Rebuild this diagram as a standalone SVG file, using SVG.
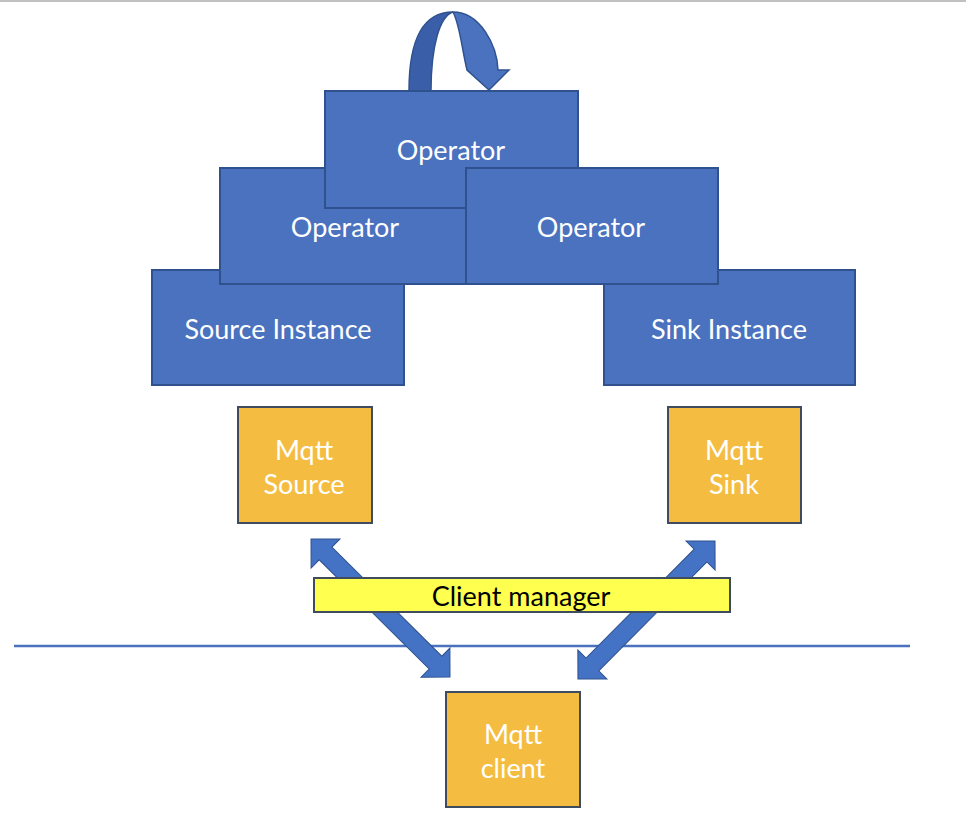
<svg xmlns="http://www.w3.org/2000/svg" width="966" height="814" viewBox="0 0 966 814">
<defs>
<style>
.blue{fill:#4A72BE;stroke:#2F528F;stroke-width:2}
.orange{fill:#F4BD42;stroke:#3F4B5E;stroke-width:2}
.bar{fill:#FFFF4F;stroke:#3F4B5E;stroke-width:2}
.t{font-family:Lato,"Open Sans","Liberation Sans",sans-serif;font-size:27px;fill:#FFFFFF;text-anchor:middle;dominant-baseline:central}
.tb{fill:#000000}
.arrow{fill:#4472C4;stroke:#2F528F;stroke-width:1}
</style>
</defs>
<rect x="0" y="0" width="966" height="2" fill="#C0C0C0"/>
<line x1="14" y1="646" x2="910" y2="646" stroke="#4A72BE" stroke-width="2.5"/>
<g id="connectors">
<polygon class="arrow" transform="translate(311,539) rotate(44.8)" points="0,0 20.5,-20.5 20.5,-9 175.4,-9 175.4,-20.5 195.9,0 175.4,20.5 175.4,9 20.5,9 20.5,20.5"/>
<polygon class="arrow" transform="translate(715,541) rotate(134.8)" points="0,0 20.5,-20.5 20.5,-9 174,-9 174,-20.5 194.5,0 174,20.5 174,9 20.5,9 20.5,20.5"/>
<g id="loop">
<path d="M409,91 C409,40 422,12 453,12 C440,16 431,45 431,91 Z" fill="#3B5EA8" stroke="#2F528F" stroke-width="1.5"/>
<path d="M453,12 C480,12 497,45 498,70 L509,70 L489,90 L467,70 C462,50 460,25 453,12 Z" fill="#4A72BE" stroke="#2F528F" stroke-width="1.5"/>
</g>
</g>
<g id="source-instance"><rect class="blue" x="152" y="270" width="252" height="115"/><text class="t" x="278" y="328">Source Instance</text></g>
<g id="sink-instance"><rect class="blue" x="604" y="270" width="251" height="115"/><text class="t" x="729" y="328">Sink Instance</text></g>
<g id="operator-left"><rect class="blue" x="220" y="168" width="246" height="116"/><text class="t" x="345" y="226">Operator</text></g>
<g id="operator-top"><rect class="blue" x="325" y="91" width="253" height="117"/><text class="t" x="451" y="149">Operator</text></g>
<g id="operator-right"><rect class="blue" x="466" y="168" width="252" height="116"/><text class="t" x="591" y="226">Operator</text></g>
<g id="mqtt-source"><rect class="orange" x="238" y="407" width="134" height="116"/><text class="t" x="304" y="449">Mqtt</text><text class="t" x="304" y="483">Source</text></g>
<g id="mqtt-sink"><rect class="orange" x="668" y="407" width="133" height="116"/><text class="t" x="734" y="449">Mqtt</text><text class="t" x="734" y="483">Sink</text></g>
<g id="client-manager"><rect class="bar" x="314" y="578" width="416" height="34"/><text class="t tb" x="521" y="595">Client manager</text></g>
<g id="mqtt-client"><rect class="orange" x="446" y="692" width="134" height="115"/><text class="t" x="513" y="733">Mqtt</text><text class="t" x="513" y="767">client</text></g>
</svg>
